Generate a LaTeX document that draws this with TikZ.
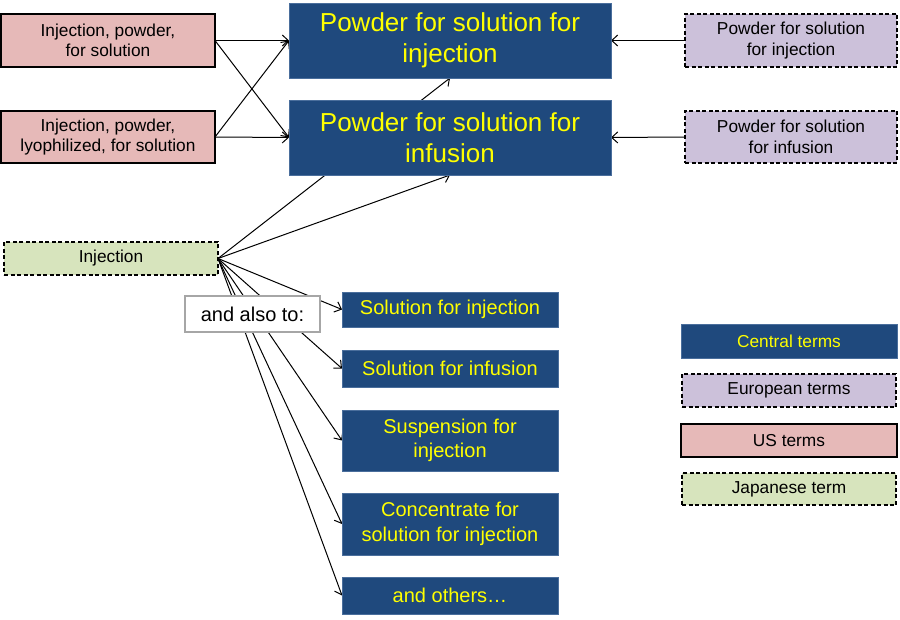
\documentclass[tikz,border=0pt]{standalone}
\usepackage{fontspec}
\setmainfont{Liberation Sans}
\usetikzlibrary{arrows.meta}
\pgfdeclarelayer{bg}
\pgfsetlayers{bg,main}
\definecolor{cblue}{HTML}{1F497D}
\definecolor{cblueedge}{HTML}{4A6E9C}
\definecolor{cyel}{HTML}{FFFF00}
\definecolor{cus}{HTML}{E6B9B8}
\definecolor{ceu}{HTML}{CCC1DA}
\definecolor{cjp}{HTML}{D7E4BD}
\definecolor{cgrayedge}{HTML}{A6A6A6}
\tikzset{
  box/.style={rectangle, inner sep=0pt, outer sep=0pt, align=center},
  central/.style={box, fill=cblue, draw=cblueedge, line width=0.8pt, text=cyel,
    font=\fontsize{20}{24.5}\selectfont},
  bigcentral/.style={central, font=\fontsize{26}{31}\selectfont},
  usbox/.style={box, fill=cus, draw=black, line width=1.2pt, text=black,
    font=\fontsize{17.3}{20.5}\selectfont},
  eubox/.style={box, fill=ceu, draw=black, line width=1.1pt, dash pattern=on 4pt off 2.5pt,
    text=black, font=\fontsize{17.3}{20.5}\selectfont},
  jpbox/.style={box, fill=cjp, draw=black, line width=1.1pt, dash pattern=on 4pt off 2.5pt,
    text=black, font=\fontsize{17.3}{20.5}\selectfont},
  notebox/.style={box, fill=white, draw=cgrayedge, line width=1.5pt, text=black,
    font=\fontsize{20}{24}\selectfont},
  conn/.style={draw=black, line width=1pt, -{Straight Barb[length=6pt,width=11pt]}}
}
\begin{document}
\begin{tikzpicture}[x=1pt, y=-1pt]
\useasboundingbox (0,0) rectangle (900,620);
% main nodes
\node[usbox, minimum width=214pt, minimum height=53pt] (us1) at (108,40.5) {Injection, powder,\\for solution};
\node[usbox, minimum width=214pt, minimum height=52pt] (us2) at (108,137) {Injection, powder,\\lyophilized, for solution};
\node[bigcentral, minimum width=322pt, minimum height=75pt] (c1) at (450,40.5) {Powder for solution for\\injection};
\node[bigcentral, minimum width=322pt, minimum height=75pt] (c2) at (450,137.5) {Powder for solution for\\infusion};
\node[eubox, minimum width=212pt, minimum height=53pt] (eu1) at (791,40.5) {Powder for solution\\for injection};
\node[eubox, minimum width=212pt, minimum height=52pt] (eu2) at (791,137) {Powder for solution\\for infusion};
\node[jpbox, minimum width=214pt, minimum height=33pt] (jp) at (111,258.5) {Injection};
\node[notebox, minimum width=135pt, minimum height=36pt] (also) at (252.5,314) {and also to:};
\node[central, minimum width=216pt, minimum height=35pt] (s1) at (450,309.5) {Solution for injection};
\node[central, minimum width=216pt, minimum height=37pt] (s2) at (450,368.5) {Solution for infusion};
\node[central, minimum width=216pt, minimum height=61pt] (s3) at (450,440.5) {Suspension for\\injection};
\node[central, minimum width=216pt, minimum height=62pt] (s4) at (450,524) {Concentrate for\\solution for injection};
\node[central, minimum width=216pt, minimum height=37pt] (s5) at (450,595.5) {and others\ldots};
% legend
\node[central, minimum width=216pt, minimum height=34pt, font=\fontsize{17.3}{20.5}\selectfont] (lc) at (789,341) {Central terms};
\node[eubox, minimum width=214pt, minimum height=33pt] (le) at (789,390.5) {European terms};
\node[usbox, minimum width=216pt, minimum height=33pt] (lu) at (789,440.5) {US terms};
\node[jpbox, minimum width=214pt, minimum height=32pt] (lj) at (789,489) {Japanese term};
% connectors behind nodes
\begin{pgfonlayer}{bg}
\fill[white] (0,0) rectangle (900,620);
\draw[conn] (us1.east) -- (c1.west);
\draw[conn] (us1.east) -- (c2.west);
\draw[conn] (us2.east) -- (c2.west);
\draw[conn] (us2.east) -- (c1.west);
\draw[conn] (eu1.west) -- (c1.east);
\draw[conn] (eu2.west) -- (c2.east);
\draw[conn] (jp.east) -- (c1.south);
\draw[conn] (jp.east) -- (c2.south);
\draw[conn] (jp.east) -- (s1.west);
\draw[conn] (jp.east) -- (s2.west);
\draw[conn] (jp.east) -- (s3.west);
\draw[conn] (jp.east) -- (s4.west);
\draw[conn] (jp.east) -- (s5.west);
\end{pgfonlayer}
\end{tikzpicture}
\end{document}
